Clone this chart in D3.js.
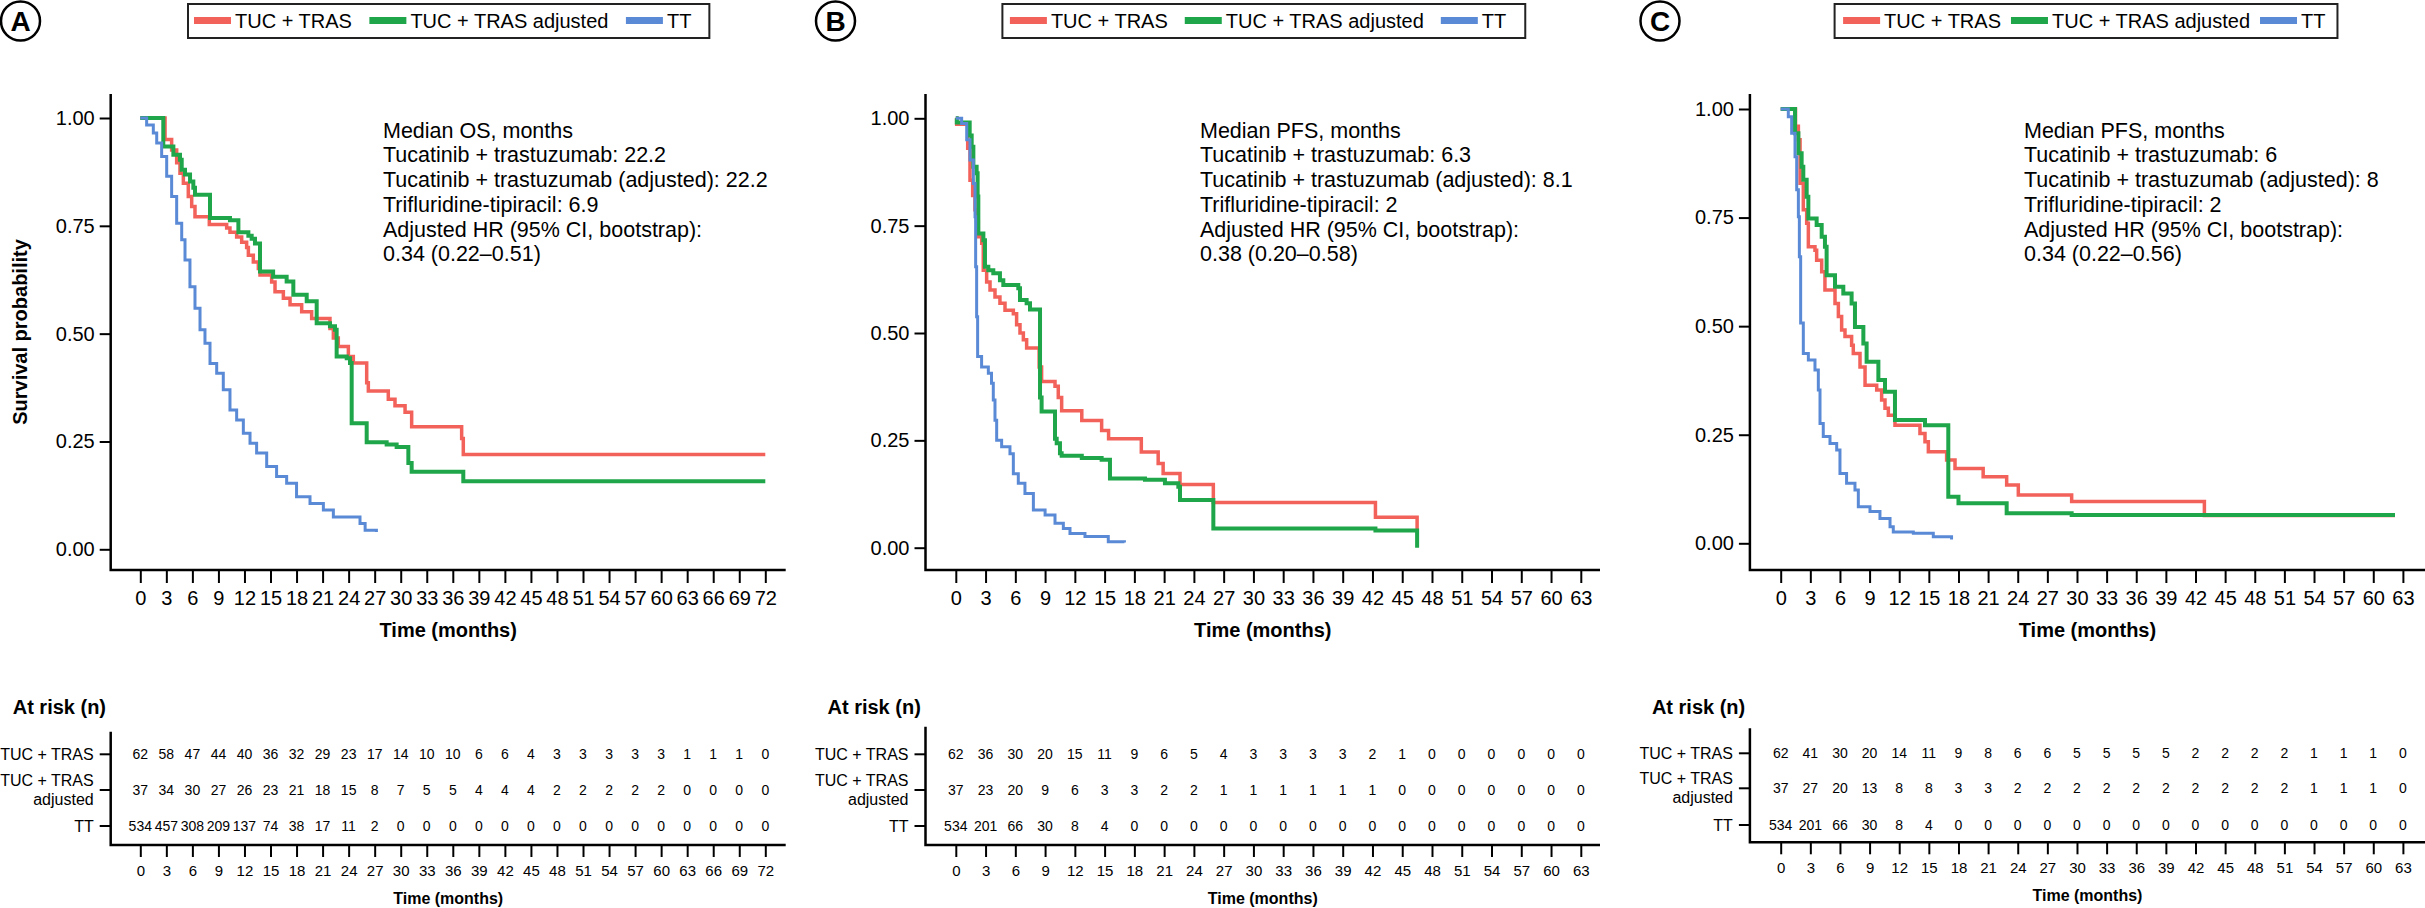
<!DOCTYPE html>
<html>
<head>
<meta charset="utf-8">
<script src="https://cdn.jsdelivr.net/npm/d3@7"></script>
<style>
body { margin: 0; background: #fff; }
svg text { font-family: "Liberation Sans", Arial, Helvetica, sans-serif; fill: #000; }
</style>
</head>
<body>
<svg id="chart" width="2425" height="908"></svg>
<script>
const seriesNames = ["TUC + TRAS", "TUC + TRAS adjusted", "TT"];
const riskRowLabels = [["TUC + TRAS"], ["TUC + TRAS", "adjusted"], ["TT"]];
const seriesColors = ["#F2615A", "#1FA64A", "#5A8AD6"];
const seriesWidths = [3.5, 4, 3];
const yTicks = [0, 0.25, 0.5, 0.75, 1];

// A - overall survival, [month, survival]
const osTucTras = [[0, 1], [2.85, 0.95], [3.61, 0.926], [4.19, 0.896], [4.57, 0.872], [4.96, 0.849],
  [5.53, 0.818], [5.92, 0.795], [6.3, 0.771], [7.95, 0.753], [9.95, 0.745], [10.33, 0.735],
  [11.1, 0.724], [11.68, 0.712], [12.25, 0.7], [12.45, 0.682], [13.02, 0.666], [13.6, 0.651],
  [13.79, 0.636], [15.13, 0.62], [15.52, 0.597], [16.48, 0.582], [17.25, 0.567], [18.59, 0.551],
  [19.74, 0.535], [21.85, 0.512], [22.24, 0.49], [22.81, 0.47], [23.97, 0.447], [24.54, 0.432],
  [26.08, 0.386], [26.27, 0.367], [28.57, 0.348], [29.34, 0.333], [30.5, 0.318], [31.26, 0.284],
  [37.02, 0.257], [37.21, 0.22], [72, 0.22]];
const osTucTrasAdj = [[0, 1], [2.65, 0.934], [3.81, 0.915], [4.57, 0.903], [4.77, 0.88], [5.15, 0.869],
  [5.73, 0.853], [6.11, 0.838], [6.3, 0.822], [8.03, 0.768], [10.33, 0.763], [11.3, 0.735],
  [12.45, 0.727], [12.83, 0.72], [13.21, 0.709], [13.79, 0.644], [15.3, 0.632], [16.86, 0.621],
  [17.63, 0.59], [19.17, 0.575], [20.32, 0.524], [21.85, 0.517], [22.43, 0.509], [22.62, 0.447],
  [23.78, 0.443], [24.16, 0.432], [24.35, 0.292], [26.08, 0.248], [28.38, 0.243], [29.53, 0.237],
  [30.88, 0.2], [31.26, 0.18], [37.21, 0.158], [72, 0.158]];
const osTT = [[0, 1], [0.73, 0.984], [1.5, 0.965], [1.89, 0.942], [2.46, 0.911], [3.04, 0.865],
  [3.61, 0.818], [4.19, 0.756], [4.77, 0.718], [5.15, 0.671], [5.72, 0.609], [6.3, 0.559],
  [6.88, 0.509], [7.45, 0.478], [8.03, 0.431], [8.8, 0.408], [9.56, 0.37], [10.33, 0.323],
  [11.1, 0.3], [11.87, 0.269], [12.64, 0.246], [13.4, 0.223], [14.56, 0.192], [15.7, 0.169],
  [16.86, 0.153], [18, 0.122], [19.55, 0.106], [21.09, 0.091], [22.24, 0.075], [24.54, 0.075],
  [25.31, 0.06], [25.9, 0.044], [27.2, 0.04]];
const osRiskTucTras = [62, 58, 47, 44, 40, 36, 32, 29, 23, 17, 14, 10, 10, 6, 6, 4, 3, 3, 3, 3, 3, 1, 1, 1, 0];
const osRiskAdj = [37, 34, 30, 27, 26, 23, 21, 18, 15, 8, 7, 5, 5, 4, 4, 4, 2, 2, 2, 2, 2, 0, 0, 0, 0];
const osRiskTT = [534, 457, 308, 209, 137, 74, 38, 17, 11, 2, 0, 0, 0, 0, 0, 0, 0, 0, 0, 0, 0, 0, 0, 0, 0];
const osNotes = ["Median OS, months", "Tucatinib + trastuzumab: 22.2",
  "Tucatinib + trastuzumab (adjusted): 22.2", "Trifluridine-tipiracil: 6.9",
  "Adjusted HR (95% CI, bootstrap):", "0.34 (0.22\u20130.51)"];

// B - progression-free survival
const pfsTucTras = [[0, 1], [0.09, 0.986], [1.2, 0.93], [1.43, 0.856], [1.7, 0.82], [1.93, 0.787],
  [2.1, 0.76], [2.27, 0.724], [2.61, 0.709], [2.77, 0.646], [3.11, 0.619], [3.45, 0.6], [3.95, 0.584],
  [4.45, 0.569], [4.96, 0.553], [5.8, 0.545], [6.13, 0.519], [6.47, 0.5], [6.81, 0.484], [7.14, 0.465],
  [8.4, 0.421], [8.65, 0.387], [10, 0.376], [10.33, 0.35], [10.67, 0.319], [12.7, 0.296], [14.7, 0.273],
  [15.4, 0.254], [18.7, 0.223], [20.4, 0.196], [20.9, 0.173], [22.6, 0.147], [25.96, 0.105],
  [42.3, 0.071], [46.5, 0.041]];
const pfsTucTrasAdj = [[0, 1], [0.1, 0.99], [1.4, 0.96], [1.6, 0.934], [1.77, 0.887], [2.1, 0.872],
  [2.2, 0.818], [2.27, 0.732], [2.78, 0.716], [2.94, 0.654], [3.28, 0.646], [3.78, 0.639], [4.45, 0.623],
  [4.79, 0.612], [6.3, 0.604], [6.47, 0.577], [7.14, 0.569], [7.48, 0.555], [8.49, 0.35], [8.65, 0.317],
  [10, 0.254], [10.17, 0.243], [10.5, 0.22], [10.67, 0.214], [12.7, 0.209], [14.7, 0.205], [15.54, 0.161],
  [19.07, 0.158], [21.08, 0.15], [22.43, 0.142], [22.6, 0.111], [25.96, 0.045], [42.3, 0.04], [46.5, 0]];
const pfsTT = [[0, 1], [0.59, 0.988], [1.1, 0.95], [1.43, 0.903], [1.77, 0.848], [1.94, 0.771],
  [2.0, 0.654], [2.1, 0.538], [2.2, 0.445], [2.6, 0.421], [3.28, 0.406], [3.6, 0.383], [3.78, 0.344],
  [3.95, 0.297], [4.12, 0.25], [4.62, 0.235], [5.46, 0.219], [5.8, 0.172], [6.3, 0.15], [6.97, 0.126],
  [7.82, 0.088], [9.0, 0.076], [10, 0.057], [10.84, 0.045], [11.51, 0.033], [13.02, 0.026],
  [15.37, 0.014], [17.0, 0.012]];
const pfsRiskTucTras = [62, 36, 30, 20, 15, 11, 9, 6, 5, 4, 3, 3, 3, 3, 2, 1, 0, 0, 0, 0, 0, 0];
const pfsRiskAdj = [37, 23, 20, 9, 6, 3, 3, 2, 2, 1, 1, 1, 1, 1, 1, 0, 0, 0, 0, 0, 0, 0];
const pfsRiskTT = [534, 201, 66, 30, 8, 4, 0, 0, 0, 0, 0, 0, 0, 0, 0, 0, 0, 0, 0, 0, 0, 0];
const pfsNotes = ["Median PFS, months", "Tucatinib + trastuzumab: 6.3",
  "Tucatinib + trastuzumab (adjusted): 8.1", "Trifluridine-tipiracil: 2",
  "Adjusted HR (95% CI, bootstrap):", "0.38 (0.20\u20130.58)"];

// C - progression-free survival (second analysis)
const pfs2TucTras = [[0, 1], [1.5, 0.96], [1.79, 0.929], [1.96, 0.829], [2.29, 0.768], [2.63, 0.737],
  [2.8, 0.683], [3.47, 0.675], [3.64, 0.652], [4.15, 0.625], [4.48, 0.583], [5.5, 0.552], [5.84, 0.522],
  [6.17, 0.491], [6.51, 0.476], [7.18, 0.456], [7.35, 0.437], [8.03, 0.406], [8.54, 0.364], [9.72, 0.353],
  [10.22, 0.33], [10.56, 0.311], [10.9, 0.295], [11.57, 0.272], [14.1, 0.253], [14.61, 0.234],
  [14.95, 0.211], [16.8, 0.192], [17.65, 0.172], [20.5, 0.153], [22.88, 0.134], [24.06, 0.111],
  [29.46, 0.096], [42.9, 0.064], [62.2, 0.064]];
const pfs2TucTrasAdj = [[0, 1], [1.45, 0.944], [1.79, 0.898], [2.12, 0.867], [2.29, 0.837], [2.63, 0.798],
  [2.8, 0.748], [3.64, 0.733], [4.15, 0.706], [4.48, 0.683], [4.65, 0.617], [5.5, 0.591], [6.34, 0.575],
  [7.18, 0.552], [7.52, 0.498], [8.37, 0.46], [8.7, 0.418], [9.89, 0.376], [10.56, 0.349], [11.57, 0.284],
  [14.61, 0.272], [16.97, 0.107], [18.0, 0.092], [22.88, 0.069], [29.46, 0.065], [62.2, 0.065]];
const pfs2TT = [[0, 1], [0.77, 0.982], [1.11, 0.944], [1.45, 0.89], [1.62, 0.814], [1.79, 0.752],
  [1.89, 0.66], [2.02, 0.507], [2.29, 0.437], [2.8, 0.422], [3.47, 0.399], [3.81, 0.353], [3.98, 0.276],
  [4.31, 0.246], [4.99, 0.23], [5.67, 0.215], [6.0, 0.161], [6.67, 0.138], [7.52, 0.123], [7.86, 0.084],
  [9.04, 0.073], [10.05, 0.057], [11.07, 0.038], [11.4, 0.026], [13.43, 0.023], [15.45, 0.015],
  [17.3, 0.009]];
const pfs2RiskTucTras = [62, 41, 30, 20, 14, 11, 9, 8, 6, 6, 5, 5, 5, 5, 2, 2, 2, 2, 1, 1, 1, 0];
const pfs2RiskAdj = [37, 27, 20, 13, 8, 8, 3, 3, 2, 2, 2, 2, 2, 2, 2, 2, 2, 2, 1, 1, 1, 0];
const pfs2RiskTT = [534, 201, 66, 30, 8, 4, 0, 0, 0, 0, 0, 0, 0, 0, 0, 0, 0, 0, 0, 0, 0, 0];
const pfs2Notes = ["Median PFS, months", "Tucatinib + trastuzumab: 6",
  "Tucatinib + trastuzumab (adjusted): 8", "Trifluridine-tipiracil: 2",
  "Adjusted HR (95% CI, bootstrap):", "0.34 (0.22\u20130.56)"];

const AXIS_TOP = 94;
const AXIS_Y = 570;

const panels = [
  { tag: "A", curves: [osTucTras, osTucTrasAdj, osTT], risk: [osRiskTucTras, osRiskAdj, osRiskTT],
    notes: osNotes, maxT: 72, axisX: 110.7, xEnd: 785.7, x0: 140.3, x1: 765.3, yTop: 118, yBottom: 549.3,
    yTitle: true, tagX: 20.5, legendX: 188, legendPad: 6, legendGap: 17.5, legendEnd: 18, noteX: 383,
    riskTop: 731.7, riskAxis: 845, riskRows: [754.3, 790, 826] },
  { tag: "B", curves: [pfsTucTras, pfsTucTrasAdj, pfsTT], risk: [pfsRiskTucTras, pfsRiskAdj, pfsRiskTT],
    notes: pfsNotes, maxT: 63, axisX: 925.5, xEnd: 1600, x0: 955.8, x1: 1580.8, yTop: 118.3, yBottom: 547.7,
    yTitle: false, tagX: 835.5, legendX: 1002.4, legendPad: 7.5, legendGap: 17, legendEnd: 19, noteX: 1200,
    riskTop: 726.7, riskAxis: 845, riskRows: [754.3, 790, 826] },
  { tag: "C", curves: [pfs2TucTras, pfs2TucTrasAdj, pfs2TT], risk: [pfs2RiskTucTras, pfs2RiskAdj, pfs2RiskTT],
    notes: pfs2Notes, maxT: 63, axisX: 1749.9, xEnd: 2425, x0: 1780.7, x1: 2402.9, yTop: 109, yBottom: 543.3,
    yTitle: false, tagX: 1660, legendX: 1834.6, legendPad: 8.5, legendGap: 10, legendEnd: 12, noteX: 2024,
    riskTop: 728.3, riskAxis: 842.3, riskRows: [753.3, 788.3, 825] }
];

const svg = d3.select('#chart');

var drawLegend = function(p) {
  var g = svg.append('g');
  var box = g.append('rect')
    .attr('x', p.legendX).attr('y', 4).attr('height', 34)
    .attr('fill', '#fff').attr('stroke', '#222').attr('stroke-width', 2);
  var cx = p.legendX + p.legendPad;
  seriesNames.forEach(function(name, i) {
    g.append('line')
      .attr('x1', cx).attr('x2', cx + 37).attr('y1', 20.5).attr('y2', 20.5)
      .attr('stroke', seriesColors[i]).attr('stroke-width', 7);
    var t = g.append('text')
      .attr('x', cx + 41).attr('y', 27.5)
      .style('font-size', '20px')
      .text(name);
    cx += 41 + t.node().getComputedTextLength();
    if (i < seriesNames.length - 1) cx += p.legendGap;
  });
  box.attr('width', cx + p.legendEnd - p.legendX);
};

var drawPanel = function(p) {
  var x = d3.scaleLinear().domain([0, p.maxT]).range([p.x0, p.x1]);
  var y = d3.scaleLinear().domain([0, 1]).range([p.yBottom, p.yTop]);
  var ticks = d3.range(0, p.maxT + 1, 3);

  // panel tag
  svg.append('circle').attr('cx', p.tagX).attr('cy', 21).attr('r', 19.5)
    .attr('fill', 'none').attr('stroke', '#000').attr('stroke-width', 2.5);
  svg.append('text').attr('x', p.tagX).attr('y', 31).attr('text-anchor', 'middle')
    .style('font-size', '28px').style('font-weight', 'bold').text(p.tag);

  drawLegend(p);

  // main axes
  var yAxis = d3.axisLeft(y).tickValues(yTicks).tickFormat(d3.format('.2f')).tickSize(11).tickPadding(5);
  var gy = svg.append('g').attr('transform', `translate(${p.axisX},0)`).call(yAxis);
  gy.select('.domain').remove();
  gy.selectAll('line').attr('stroke', '#000').attr('stroke-width', 2);
  gy.selectAll('text').style('font-size', '20px').attr('font-family', null);

  var xAxis = d3.axisBottom(x).tickValues(ticks).tickSize(13);
  var gx = svg.append('g').attr('transform', `translate(0,${AXIS_Y})`).call(xAxis);
  gx.select('.domain').remove();
  gx.selectAll('line').attr('stroke', '#000').attr('stroke-width', 2);
  gx.selectAll('text').style('font-size', '20px').attr('y', 35).attr('dy', null).attr('font-family', null);

  svg.append('path')
    .attr('d', `M${p.axisX},${AXIS_TOP}V${AXIS_Y}H${p.xEnd}`)
    .attr('fill', 'none').attr('stroke', '#000').attr('stroke-width', 2.5);

  svg.append('text')
    .attr('x', (p.axisX + p.xEnd) / 2).attr('y', 637).attr('text-anchor', 'middle')
    .style('font-size', '20px').style('font-weight', 'bold').text('Time (months)');

  if (p.yTitle) {
    svg.append('text')
      .attr('transform', `translate(27,${(AXIS_TOP + AXIS_Y) / 2}) rotate(-90)`)
      .attr('text-anchor', 'middle')
      .style('font-size', '20px').style('font-weight', 'bold').text('Survival probability');
  }

  // curves
  var line = d3.line()
    .x(d => x(d[0]))
    .y(d => y(d[1]))
    .curve(d3.curveStepAfter);
  p.curves.forEach(function(c, i) {
    svg.append('path')
      .attr('d', line(c))
      .attr('fill', 'none')
      .attr('stroke', seriesColors[i])
      .attr('stroke-width', seriesWidths[i])
      .attr('stroke-linejoin', 'miter');
  });

  // annotation
  var note = svg.append('text').style('font-size', '21.5px');
  p.notes.forEach(function(s, i) {
    note.append('tspan').attr('x', p.noteX).attr('y', 137.7 + i * 24.7).text(s);
  });

  // risk table
  svg.append('text')
    .attr('x', p.axisX - 98).attr('y', 714)
    .style('font-size', '20px').style('font-weight', 'bold').text('At risk (n)');

  svg.append('path')
    .attr('d', `M${p.axisX},${p.riskTop}V${p.riskAxis}H${p.xEnd}`)
    .attr('fill', 'none').attr('stroke', '#000').attr('stroke-width', 2.5);

  var rx = d3.axisBottom(x).tickValues(ticks).tickSize(12);
  var grx = svg.append('g').attr('transform', `translate(0,${p.riskAxis})`).call(rx);
  grx.select('.domain').remove();
  grx.selectAll('line').attr('stroke', '#000').attr('stroke-width', 2);
  grx.selectAll('text').style('font-size', '15px').attr('y', 31).attr('dy', null).attr('font-family', null);

  svg.append('text')
    .attr('x', (p.axisX + p.xEnd) / 2).attr('y', p.riskAxis + 59).attr('text-anchor', 'middle')
    .style('font-size', '16px').style('font-weight', 'bold').text('Time (months)');

  p.risk.forEach(function(row, r) {
    var ry = p.riskRows[r];
    svg.append('line')
      .attr('x1', p.axisX - 11).attr('x2', p.axisX).attr('y1', ry).attr('y2', ry)
      .attr('stroke', '#000').attr('stroke-width', 2);
    var lab = riskRowLabels[r];
    lab.forEach(function(s, k) {
      svg.append('text')
        .attr('x', p.axisX - 17)
        .attr('y', ry + 5.5 + (k - (lab.length - 1) / 2) * 19)
        .attr('text-anchor', 'end')
        .style('font-size', '16px').text(s);
    });
    svg.append('g').selectAll('text').data(row).enter()
      .append('text')
      .attr('x', (d, i) => x(ticks[i]))
      .attr('y', ry + 5)
      .attr('text-anchor', 'middle')
      .style('font-size', '14px')
      .text(d => d);
  });
};

panels.forEach(drawPanel);
</script>
</body>
</html>
